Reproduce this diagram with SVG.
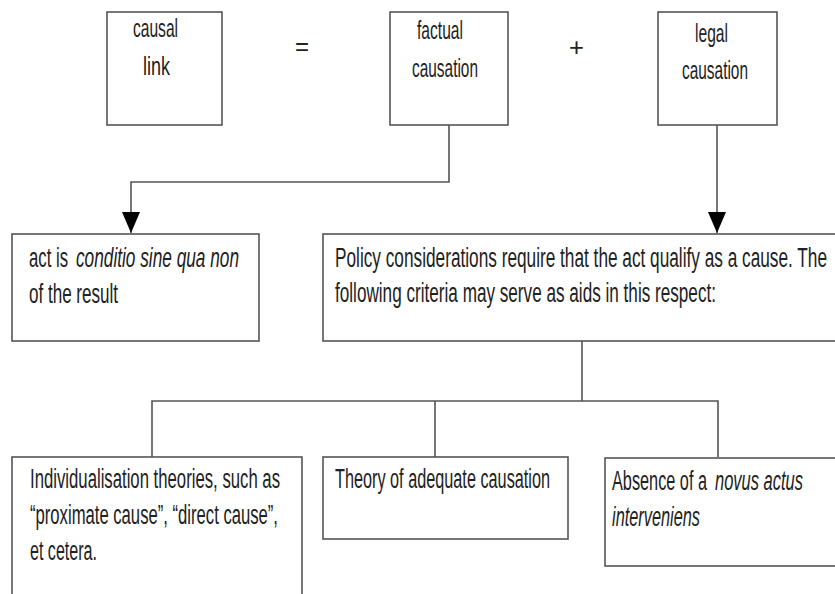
<svg xmlns="http://www.w3.org/2000/svg" width="835" height="594" viewBox="0 0 835 594">
<style>
.box{fill:#fff;stroke:#555;stroke-width:1.6}
.t{font-family:"Liberation Sans Narrow","Liberation Sans",Arial,sans-serif;font-size:27px;fill:#222}
.s{font-size:25px}
.i{font-style:italic}
.ln{fill:none;stroke:#555;stroke-width:1.6}
</style>
<defs>
<marker id="arr" viewBox="0 0 21 18" refX="21" refY="9" markerWidth="21" markerHeight="18" markerUnits="userSpaceOnUse" orient="auto">
<path d="M0,0 L21,9 L0,18 z" fill="#000"/>
</marker>
</defs>
<rect width="835" height="594" fill="#fff"/>
<g id="connectors">
<path class="ln" d="M449,125 V182 H131 V233" marker-end="url(#arr)"/>
<path class="ln" d="M717,125 V233" marker-end="url(#arr)"/>
<path class="ln" d="M582,341 V401"/>
<path class="ln" d="M152,457 V401 H718 V457"/>
<path class="ln" d="M435,401 V457"/>
</g>
<g id="causal-link">
<rect class="box" x="107" y="12" width="115" height="113"/>
<text class="t s" x="133" y="37" textLength="45" lengthAdjust="spacingAndGlyphs">causal</text>
<text class="t s" x="143" y="75" textLength="27" lengthAdjust="spacingAndGlyphs">link</text>
</g>
<g id="equals">
<text class="t s" x="295" y="55" textLength="14" lengthAdjust="spacingAndGlyphs">=</text>
</g>
<g id="factual-causation">
<rect class="box" x="390" y="12" width="118" height="113"/>
<text class="t s" x="417" y="39" textLength="46" lengthAdjust="spacingAndGlyphs">factual</text>
<text class="t s" x="412" y="77" textLength="66" lengthAdjust="spacingAndGlyphs">causation</text>
</g>
<g id="plus">
<text class="t s" x="569" y="56" textLength="15" lengthAdjust="spacingAndGlyphs">+</text>
</g>
<g id="legal-causation">
<rect class="box" x="658" y="12" width="119" height="113"/>
<text class="t s" x="695" y="42" textLength="33" lengthAdjust="spacingAndGlyphs">legal</text>
<text class="t s" x="682" y="79" textLength="66" lengthAdjust="spacingAndGlyphs">causation</text>
</g>
<g id="conditio">
<rect class="box" x="12" y="234" width="247" height="107"/>
<text class="t" x="29" y="267" textLength="39" lengthAdjust="spacingAndGlyphs">act is</text>
<text class="t i" x="76" y="267" textLength="163" lengthAdjust="spacingAndGlyphs">conditio sine qua non</text>
<text class="t" x="29" y="303" textLength="89" lengthAdjust="spacingAndGlyphs">of the result</text>
</g>
<g id="policy">
<rect class="box" x="323" y="234" width="520" height="107"/>
<text class="t" x="335" y="267" textLength="492" lengthAdjust="spacingAndGlyphs">Policy considerations require that the act qualify as a cause. The</text>
<text class="t" x="335" y="302" textLength="381" lengthAdjust="spacingAndGlyphs">following criteria may serve as aids in this respect:</text>
</g>
<g id="individualisation">
<rect class="box" x="12" y="457" width="290" height="150"/>
<text class="t" x="30" y="488" textLength="250" lengthAdjust="spacingAndGlyphs">Individualisation theories, such as</text>
<text class="t" x="30" y="524" textLength="248" lengthAdjust="spacingAndGlyphs">“proximate cause”, “direct cause”,</text>
<text class="t" x="30" y="560" textLength="67" lengthAdjust="spacingAndGlyphs">et cetera.</text>
</g>
<g id="adequate">
<rect class="box" x="323" y="457" width="245" height="82"/>
<text class="t" x="335" y="488" textLength="215" lengthAdjust="spacingAndGlyphs">Theory of adequate causation</text>
</g>
<g id="novus-actus">
<rect class="box" x="605" y="458" width="240" height="108"/>
<text class="t" x="612" y="490" textLength="95" lengthAdjust="spacingAndGlyphs">Absence of a</text>
<text class="t i" x="715" y="490" textLength="88" lengthAdjust="spacingAndGlyphs">novus actus</text>
<text class="t i" x="612" y="526" textLength="88" lengthAdjust="spacingAndGlyphs">interveniens</text>
</g>
</svg>
